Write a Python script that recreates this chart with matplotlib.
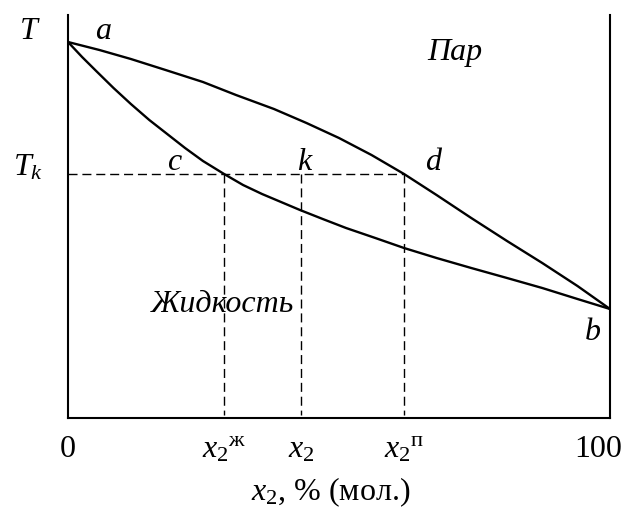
import numpy as np
import matplotlib
matplotlib.use("Agg")
import matplotlib.pyplot as plt

plt.rcParams["font.family"] = ["Liberation Serif", "DejaVu Serif"]
plt.rcParams["mathtext.fontset"] = "custom"
plt.rcParams["mathtext.rm"] = "Liberation Serif"
plt.rcParams["mathtext.it"] = "Liberation Serif:italic"

# boiling diagram of a binary mixture: composition x2 (mol %) vs temperature
# vapour (dew) curve a -> d -> b
x_vap = [0, 5.8, 11.6, 18.0, 24.9, 31.0, 38.0, 44.0, 50.0, 56.0, 62.0,
         68.0, 74.4, 81.0, 87.5, 94.0, 100]
t_vap = [376, 368, 359, 348, 336, 323, 309, 295, 280, 263, 244,
         223, 200, 177, 155, 132, 109]
# liquid (boiling) curve a -> c -> b
x_liq = [0, 2.6, 5.2, 8.4, 11.6, 15.0, 18.3, 21.6, 24.9, 28.8, 32.3, 35.8,
         39.3, 42.8, 47.0, 51.3, 56.7, 62.0, 68.0, 74.4, 81.0, 87.5, 94.0, 100]
t_liq = [376, 361, 347, 330, 314, 298, 284, 270, 257, 244, 233, 224,
         216, 208, 199, 190, 180, 170, 160, 150, 140, 130, 119, 109]

T_K = 244
X_LIQ_K = 28.8   # c
X_MIX = 43.0     # k
X_VAP_K = 62.0   # d

T_TOP = 403

fig = plt.figure(figsize=(6.24, 5.14), dpi=100)
ax = fig.add_axes([68 / 624, 1 - 418 / 514, (610 - 68) / 624, (418 - 15) / 514])

ax.plot(x_vap, t_vap, color="black", lw=1.7, solid_joinstyle="round")
ax.plot(x_liq, t_liq, color="black", lw=1.7, solid_joinstyle="round")

dash = dict(color="black", lw=1.0, linestyle=(0, (6.5, 3.5)))
ax.plot([0, X_VAP_K], [T_K, T_K], **dash)
for xv in (X_LIQ_K, X_MIX, X_VAP_K):
    ax.plot([xv, xv], [T_K, 3], **dash)

ax.set_xlim(0, 100)
ax.set_ylim(0, T_TOP)
for side in ("left", "right", "bottom"):
    ax.spines[side].set_linewidth(1.5)
ax.spines["top"].set_visible(False)
ax.set_xticks([])
ax.set_yticks([])

fs = 23
kw = dict(fontsize=fs, ha="center", va="baseline", clip_on=False)
ax.text(-7.0, 379, "$T$", **kw)
ax.text(-7.4, 243, "$T_k$", **kw)
ax.text(6.5, 379, "$a$", **kw)
ax.text(19.7, 248, "$c$", **kw)
ax.text(43.7, 248, "$k$", **kw)
ax.text(67.5, 248, "$d$", **kw)
ax.text(96.7, 78, "$b$", **kw)
ax.text(71.4, 358, "Пар", style="italic", **kw)
ax.text(28.6, 106, "Жидкость", style="italic", **kw)

tick_x = [0, X_LIQ_K, X_MIX, X_VAP_K, 97.8]
tick_lab = ["0", r"$x_2{}^{\mathrm{ж}}$", r"$x_2$", r"$x_2{}^{\mathrm{п}}$", "100"]
for xv, s in zip(tick_x, tick_lab):
    ax.text(xv, -39, s, **kw)

ax.text(48.5, -82, r"$x_2$, % (мол.)", **kw)

fig.savefig("out.png", dpi=100)
